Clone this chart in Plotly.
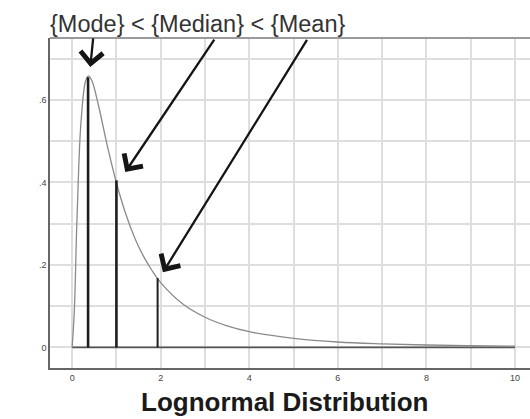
import plotly.graph_objects as go

# Lognormal density curve
curve_x = [0, 0.05, 0.1, 0.15, 0.2, 0.3, 0.37, 0.45, 0.6, 0.8, 1.0, 1.2, 1.4, 1.6, 1.8, 2.0,
           2.5, 3.0, 3.5, 4.0, 5.0, 6.0, 7.0, 8.0, 9.0, 10.0]
curve_y = [0, 0.09, 0.28, 0.44, 0.546, 0.644, 0.658, 0.645, 0.584, 0.486, 0.399, 0.327, 0.269,
           0.223, 0.187, 0.157, 0.105, 0.073, 0.052, 0.038, 0.022, 0.013, 0.0086, 0.0057,
           0.004, 0.0028]

# Marker lines: mode, median, mean
stat_names = ["Mode", "Median", "Mean"]
stat_x = [0.36, 1.0, 1.93]
stat_y = [0.655, 0.405, 0.168]
stat_width = [2.6, 2.6, 2.0]

# Arrow tips (data) pointing at the statistics
arrow_tip_x = [0.41, 1.2, 2.05]
arrow_tip_y = [0.68, 0.425, 0.182]

x_ticks = [0, 2, 4, 6, 8, 10]
x_ticktext = ["0", "2", "4", "6", "8", "10"]
y_ticks = [0, 0.2, 0.4, 0.6]
y_ticktext = ["0", ".2", ".4", ".6"]

baseline_x = [0, 10]
baseline_y = [0, 0]

fig = go.Figure()

fig.add_trace(go.Scatter(x=baseline_x, y=baseline_y, mode="lines",
                         line=dict(color="#555555", width=1.6), hoverinfo="skip"))
fig.add_trace(go.Scatter(x=curve_x, y=curve_y, mode="lines", line_shape="spline",
                         line=dict(color="#8a8a8a", width=1.3), hoverinfo="skip"))
for sx, sy, w in zip(stat_x, stat_y, stat_width):
    fig.add_trace(go.Scatter(x=[sx, sx], y=[0, sy], mode="lines",
                             line=dict(color="#1e1e1e", width=w), hoverinfo="skip"))

# arrow tails as pixel offsets
arrow_ax = [3, 90, 145]
arrow_ay = [-30, -134, -234]
for tx, ty, ax, ay in zip(arrow_tip_x, arrow_tip_y, arrow_ax, arrow_ay):
    fig.add_annotation(x=tx, y=ty, ax=ax, ay=ay, xref="x", yref="y", text="",
                       showarrow=True, arrowhead=4, arrowsize=1.9, arrowwidth=2.3,
                       arrowcolor="#151515", standoff=0)

fig.add_annotation(text="{Mode} < {Median} < {Mean}", xref="paper", yref="paper",
                   x=0, y=1, xanchor="left", yanchor="bottom", yshift=-1, xshift=-2,
                   showarrow=False,
                   font=dict(family="Liberation Sans, Arial", size=23.5, color="#333333"))
fig.add_annotation(text="<b>Lognormal Distribution</b>", xref="paper", yref="paper",
                   x=0.489, y=0, xanchor="center", yanchor="top", yshift=-17,
                   showarrow=False,
                   font=dict(family="Liberation Sans, Arial", size=26, color="#1a1a1a"))

# top frame line
fig.add_shape(type="line", xref="paper", yref="paper", x0=0, x1=1, y0=1, y1=1,
              line=dict(color="#9a9a9a", width=2))

fig.update_layout(
    width=530, height=419,
    margin=dict(l=50, r=0, t=38, b=51),
    paper_bgcolor="white", plot_bgcolor="white",
    showlegend=False,
    font=dict(family="Liberation Sans, Arial", size=9, color="#444444"),
)
fig.update_xaxes(range=[-0.5, 10.34], tickvals=x_ticks, ticktext=x_ticktext,
                 showgrid=True, gridcolor="#dedede", gridwidth=1.5,
                 minor=dict(dtick=1, tick0=0, showgrid=True, gridcolor="#dedede", gridwidth=1.5),
                 showline=True, linecolor="#666666", linewidth=1.5,
                 zeroline=False, ticks="", ticklen=0)
fig.update_yaxes(range=[-0.05, 0.75], tickvals=y_ticks, ticktext=y_ticktext,
                 showgrid=True, gridcolor="#dedede", gridwidth=1.5,
                 minor=dict(dtick=0.1, tick0=0, showgrid=True, gridcolor="#dedede", gridwidth=1.5),
                 showline=True, linecolor="#666666", linewidth=1.5,
                 zeroline=False, ticks="", ticklen=0)

fig.write_html("out.html", config={"displayModeBar": False},
               post_script="document.body.style.margin='0';document.body.style.overflow='hidden';")
